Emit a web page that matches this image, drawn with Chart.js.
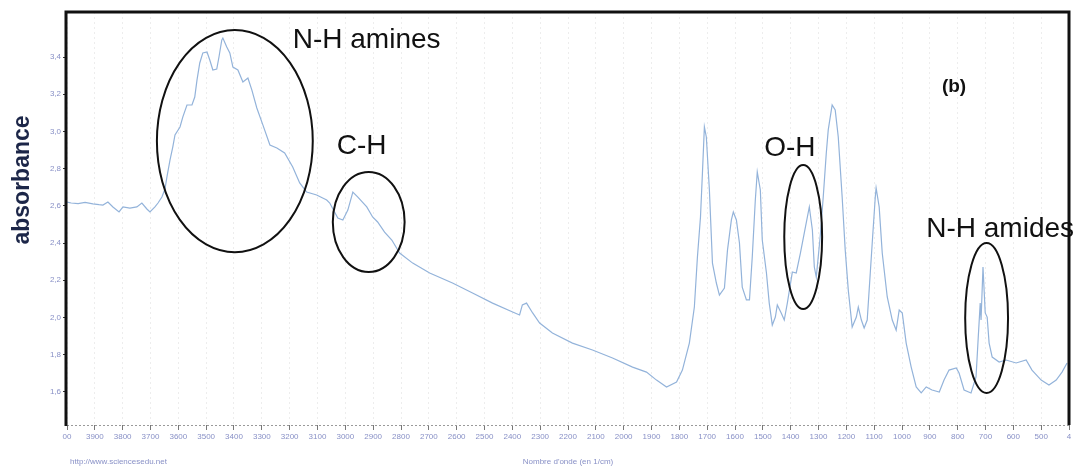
<!DOCTYPE html>
<html>
<head>
<meta charset="utf-8">
<script src="https://cdn.jsdelivr.net/npm/chart.js@4/dist/chart.umd.min.js"></script>
<style>
  html, body { margin: 0; padding: 0; background: #ffffff; }
  #wrap { position: relative; width: 1075px; height: 473px; }
</style>
</head>
<body>
<div id="wrap"><canvas id="c" width="1075" height="473"></canvas></div>
<script>
// Wavenumber (cm-1)
const wavenumbers = [
  4000, 3985, 3960, 3935, 3907, 3885, 3871, 3853, 3835, 3813, 3799, 3774, 3749, 3731, 3713, 3702, 3684, 3673, 3659,
  3648, 3641, 3630, 3620, 3612, 3594, 3584, 3569, 3551, 3541, 3533, 3523, 3512, 3497, 3487, 3476, 3462, 3454, 3444,
  3440, 3426, 3415, 3404, 3386, 3368, 3350, 3336, 3318, 3296, 3271, 3246, 3218, 3189, 3164, 3139, 3103, 3067, 3056,
  3027, 3009, 2991, 2973, 2955, 2923, 2902, 2884, 2859, 2833, 2805, 2758, 2697, 2615, 2543, 2471, 2399, 2374, 2364,
  2349, 2327, 2302, 2256, 2184, 2112, 2040, 1968, 1918, 1882, 1846, 1810, 1789, 1764, 1746, 1735, 1724, 1717, 1710,
  1703, 1692, 1681, 1667, 1656, 1638, 1627, 1613, 1606, 1595, 1584, 1574, 1559, 1548, 1538, 1527, 1520, 1509, 1502,
  1487, 1477, 1466, 1455, 1448, 1434, 1423, 1412, 1394, 1380, 1365, 1351, 1333, 1322, 1315, 1308, 1294, 1283, 1272,
  1265, 1251, 1240, 1229, 1215, 1204, 1193, 1179, 1164, 1157, 1146, 1136, 1125, 1114, 1107, 1096, 1093, 1082, 1071,
  1053, 1035, 1021, 1010, 999, 985, 967, 949, 931, 913, 892, 866, 849, 831, 805, 795, 777, 752, 734, 726, 719, 716,
  709, 701, 694, 687, 676, 651, 626, 590, 554, 533, 500, 472, 446, 425, 407
];
// Absorbance
const absorbance = [
  2.620, 2.615, 2.612, 2.618, 2.610, 2.606, 2.604, 2.620, 2.594, 2.567, 2.594, 2.588, 2.594, 2.615, 2.583, 2.567, 2.594, 2.615, 2.647,
  2.690, 2.755, 2.846, 2.916, 2.981, 3.024, 3.077, 3.142, 3.142, 3.185, 3.276, 3.368, 3.422, 3.427, 3.384, 3.330, 3.335, 3.400, 3.491,
  3.502, 3.454, 3.422, 3.346, 3.330, 3.266, 3.287, 3.223, 3.126, 3.034, 2.927, 2.911, 2.884, 2.809, 2.723, 2.674, 2.658, 2.631, 2.615,
  2.534, 2.524, 2.577, 2.674, 2.647, 2.594, 2.540, 2.513, 2.459, 2.416, 2.346, 2.292, 2.239, 2.185, 2.131, 2.077, 2.029, 2.013, 2.067,
  2.077, 2.024, 1.970, 1.916, 1.862, 1.825, 1.782, 1.733, 1.706, 1.663, 1.626, 1.653, 1.717, 1.862, 2.056, 2.325, 2.540, 2.776, 3.024,
  2.970, 2.685, 2.292, 2.185, 2.120, 2.158, 2.362, 2.524, 2.567, 2.524, 2.400, 2.163, 2.094, 2.094, 2.325, 2.631, 2.782, 2.685, 2.416,
  2.239, 2.077, 1.959, 2.002, 2.067, 2.024, 1.986, 2.077, 2.244, 2.239, 2.346, 2.454, 2.594, 2.470, 2.271, 2.217, 2.432, 2.647, 2.884,
  3.008, 3.142, 3.115, 2.970, 2.647, 2.362, 2.147, 1.948, 2.002, 2.056, 1.986, 1.943, 1.986, 2.239, 2.400, 2.647, 2.696, 2.594, 2.346,
  2.110, 1.986, 1.932, 2.040, 2.024, 1.862, 1.733, 1.626, 1.594, 1.626, 1.610, 1.599, 1.663, 1.717, 1.728, 1.701, 1.610, 1.594, 1.680, 1.895, 2.077, 1.986,
  2.271, 2.024, 2.002, 1.862, 1.787, 1.760, 1.771, 1.755, 1.771, 1.717, 1.663, 1.637, 1.663, 1.706, 1.755
];
// Tick values / labels as printed in the picture
const yTickValues = [1.6, 1.8, 2.0, 2.2, 2.4, 2.6, 2.8, 3.0, 3.2, 3.4];
const yTickLabels = ["1,6", "1,8", "2,0", "2,2", "2,4", "2,6", "2,8", "3,0", "3,2", "3,4"];
const xTickLabels = ["00", "3900", "3800", "3700", "3600", "3500", "3400", "3300", "3200", "3100", "3000",
  "2900", "2800", "2700", "2600", "2500", "2400", "2300", "2200", "2100", "2000", "1900", "1800", "1700",
  "1600", "1500", "1400", "1300", "1200", "1100", "1000", "900", "800", "700", "600", "500", "4"];
// Annotation groups (centre wavenumber, centre absorbance, half-widths in data units)
const ellipseNames = ["N-H amines", "C-H", "O-H", "N-H amides"];
const ellipseCentreWn = [3397, 2916, 1355, 696];
const ellipseCentreAbs = [2.948, 2.513, 2.432, 1.997];
const ellipseHalfWn = [280, 129, 68, 77];
const ellipseHalfAbs = [0.597, 0.269, 0.387, 0.403];
const labelTexts = ["N-H amines", "C-H", "O-H", "N-H amides", "(b)"];
const labelWn = [3189, 3031, 1495, 913, 813];
const labelAbs = [3.491, 2.922, 2.911, 2.475, 3.239];

const points = wavenumbers.map((w, i) => ({ x: w, y: absorbance[i] }));

const TICK_COLOR = '#8890c6';

const decorPlugin = {
  id: 'decor',
  beforeDatasetsDraw(chart) {
    const { ctx, chartArea: a } = chart;
    ctx.save();
    ctx.strokeStyle = '#9a9a9a';
    ctx.lineWidth = 1;
    ctx.setLineDash([2, 2]);
    ctx.beginPath();
    ctx.moveTo(a.left, a.bottom + 0.5);
    ctx.lineTo(a.right, a.bottom + 0.5);
    ctx.stroke();
    ctx.setLineDash([]);
    ctx.restore();
  },
  afterDatasetsDraw(chart) {
    const { ctx, chartArea: a, scales } = chart;
    const xs = scales.x, ys = scales.y;
    ctx.save();
    ctx.strokeStyle = '#111111';
    ctx.lineWidth = 3;
    ctx.beginPath();
    ctx.moveTo(a.left - 1, a.bottom + 1);
    ctx.lineTo(a.left - 1, a.top);
    ctx.lineTo(a.right, a.top);
    ctx.lineTo(a.right, a.bottom);
    ctx.stroke();

    ctx.lineWidth = 2;
    ctx.strokeStyle = '#111111';
    for (let i = 0; i < ellipseNames.length; i++) {
      const cx = xs.getPixelForValue(ellipseCentreWn[i]);
      const cy = ys.getPixelForValue(ellipseCentreAbs[i]);
      const rx = Math.abs(xs.getPixelForValue(ellipseCentreWn[i] - ellipseHalfWn[i]) - cx);
      const ry = Math.abs(ys.getPixelForValue(ellipseCentreAbs[i] + ellipseHalfAbs[i]) - cy);
      ctx.beginPath();
      ctx.ellipse(cx, cy, rx, ry, 0, 0, Math.PI * 2);
      ctx.stroke();
    }
    ctx.fillStyle = '#111111';
    ctx.textBaseline = 'middle';
    for (let i = 0; i < labelTexts.length; i++) {
      const px = xs.getPixelForValue(labelWn[i]);
      const py = ys.getPixelForValue(labelAbs[i]);
      if (labelTexts[i] === '(b)') {
        ctx.font = 'bold 19px "Liberation Sans", Arial, sans-serif';
        ctx.textAlign = 'center';
      } else {
        ctx.font = '28px "Liberation Sans", Arial, sans-serif';
        ctx.textAlign = 'left';
      }
      ctx.fillText(labelTexts[i], px, py);
    }

    ctx.save();
    ctx.translate(23, 180);
    ctx.rotate(-Math.PI / 2);
    ctx.font = 'bold 23px "Liberation Sans", Arial, sans-serif';
    ctx.fillStyle = '#1c2648';
    ctx.textAlign = 'center';
    ctx.textBaseline = 'middle';
    ctx.fillText('absorbance', 0, 0);
    ctx.restore();

    ctx.font = '8px "Liberation Sans", Arial, sans-serif';
    ctx.fillStyle = TICK_COLOR;
    ctx.textAlign = 'left';
    ctx.textBaseline = 'middle';
    ctx.fillText('http://www.sciencesedu.net', 70, 462);
    ctx.restore();
  }
};

new Chart(document.getElementById('c'), {
  type: 'line',
  data: {
    datasets: [{
      data: points,
      borderColor: '#93b3da',
      borderWidth: 1.2,
      pointRadius: 0,
      tension: 0,
      fill: false
    }]
  },
  options: {
    responsive: false,
    animation: false,
    events: [],
    layout: { padding: { left: 0, top: 12, right: 6, bottom: 0 } },
    plugins: { legend: { display: false }, tooltip: { enabled: false } },
    scales: {
      x: {
        type: 'linear',
        reverse: true,
        min: 400,
        max: 4000,
        afterFit(s) { s.height = 48; },
        afterBuildTicks(s) {
          s.ticks = xTickLabels.map((_, i) => ({ value: 4000 - i * 100 }));
        },
        ticks: {
          autoSkip: false,
          maxRotation: 0,
          minRotation: 0,
          padding: 2,
          color: TICK_COLOR,
          font: { family: '"Liberation Sans", Arial, sans-serif', size: 8 },
          callback(v) {
            const i = Math.round((4000 - v) / 100);
            return xTickLabels[i];
          }
        },
        grid: {
          display: true,
          drawOnChartArea: true,
          color: '#ededed',
          lineWidth: 1,
          tickLength: 5,
          tickColor: '#777777'
        },
        border: { display: false, dash: [2, 3] },
        title: {
          display: true,
          text: "Nombre d'onde (en 1/cm)",
          color: TICK_COLOR,
          font: { family: '"Liberation Sans", Arial, sans-serif', size: 8 },
          padding: { top: 0, bottom: 6 }
        }
      },
      y: {
        type: 'linear',
        min: 1.4216,
        max: 3.642,
        afterFit(s) { s.width = 67; },
        afterBuildTicks(s) {
          s.ticks = yTickValues.map(v => ({ value: v }));
        },
        ticks: {
          padding: 2,
          color: TICK_COLOR,
          font: { family: '"Liberation Sans", Arial, sans-serif', size: 8 },
          callback(v) {
            const i = yTickValues.findIndex(t => Math.abs(t - v) < 1e-6);
            return i >= 0 ? yTickLabels[i] : '';
          }
        },
        grid: {
          display: true,
          drawOnChartArea: false,
          tickLength: 4,
          tickColor: '#333333'
        },
        border: { display: false }
      }
    }
  },
  plugins: [decorPlugin]
});
</script>
</body>
</html>
